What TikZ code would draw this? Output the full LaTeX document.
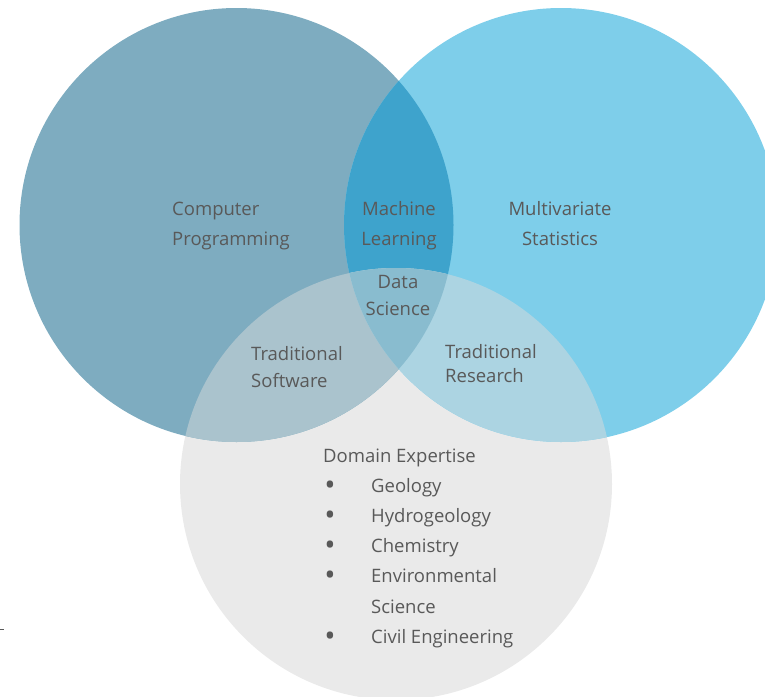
\documentclass[tikz,border=0pt]{standalone}
\usepackage{fontspec}
\setmainfont{Open Sans}
\definecolor{progblue}{HTML}{7EACC0}
\definecolor{statblue}{HTML}{7ECEEA}
\definecolor{domgray}{HTML}{EAEAEA}
\definecolor{mlblue}{HTML}{3EA3CC}
\definecolor{swblue}{HTML}{AAC3CD}
\definecolor{resblue}{HTML}{ACD4E2}
\definecolor{dsblue}{HTML}{89BCCF}
\definecolor{labelgray}{HTML}{595959}
\tikzset{
  lbl/.style={text=labelgray, font=\fontsize{18.5}{30}\selectfont, inner sep=0pt},
  bullet/.style={text=labelgray, font=\fontsize{30}{30}\selectfont, inner sep=0pt},
}
\begin{document}
\begin{tikzpicture}[x=1pt,y=-1pt]
            \useasboundingbox (0,0) rectangle (765,696);
            \clip (0,0) rectangle (765,696);
            % the three circles
            \fill[domgray] (396,484) circle [radius=216pt];
            \fill[progblue] (236.5,225) circle [radius=217pt];
            \fill[statblue] (561,225) circle [radius=217pt];
            % overlaps
            \begin{scope}
                \clip (236.5,225) circle [radius=217pt];
                \fill[mlblue] (561,225) circle [radius=217pt];
                \fill[swblue] (396,484) circle [radius=216pt];
            \end{scope}
            \begin{scope}
                \clip (561,225) circle [radius=217pt];
                \fill[resblue] (396,484) circle [radius=216pt];
            \end{scope}
            \begin{scope}
                \clip (236.5,225) circle [radius=217pt];
                \clip (561,225) circle [radius=217pt];
                \fill[dsblue] (396,484) circle [radius=216pt];
            \end{scope}
            \draw[labelgray] (0,629) -- (3.5,629);

            \node[lbl, anchor=base west, align=left] (prog) at (172,245) {Computer\\Programming};
            \node[lbl, anchor=base, align=center] (ml) at (399,245) {Machine\\Learning};
            \node[lbl, anchor=base, align=center] (stat) at (560,245) {Multivariate\\Statistics};
            \node[lbl, anchor=base, align=center, font=\fontsize{18.5}{27}\selectfont] (ds) at (398,315) {Data\\Science};
            \node[lbl, anchor=base west, align=left, font=\fontsize{18.5}{27}\selectfont] (sw) at (251,387) {Traditional\\Software};
            \node[lbl, anchor=base west, align=left, font=\fontsize{18.5}{24}\selectfont] (res) at (445,382) {Traditional\\Research};

            \node[lbl, anchor=base west] (dom) at (323,462) {Domain Expertise};
            \foreach \name/\y/\item in {geo/492/Geology, hydro/522/Hydrogeology, chem/552/Chemistry, env/582/Environmental, civ/643/Civil Engineering} {
                \node[bullet, anchor=base] (b\name) at (330,\y+3) {•};
                \node[lbl, anchor=base west] (\name) at (371,\y) {\item};
            }
            \node[lbl, anchor=base west] (envsci) at (371,613) {Science};
\end{tikzpicture}
\end{document}
